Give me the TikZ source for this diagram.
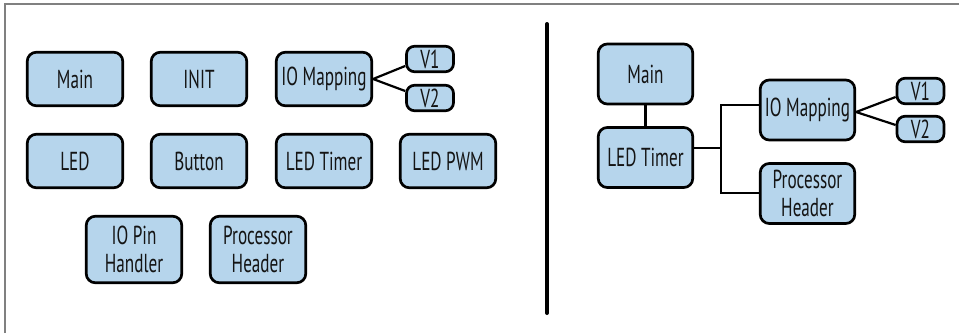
\documentclass[tikz,border=0pt]{standalone}
\usepackage{fontspec}
\setmainfont[FakeStretch=0.66]{PT Sans}
\definecolor{boxfill}{HTML}{B6D5EC}
\definecolor{framegray}{HTML}{808080}
\definecolor{txt}{HTML}{141414}
\begin{document}
\begin{tikzpicture}[x=1pt,y=-1pt,
  box/.style={draw=black, line width=2.7pt, rounded corners=9pt, fill=boxfill,
    text=txt, inner sep=0pt, align=center,
    font=\fontsize{26}{28}\selectfont},
  lbox/.style={box, minimum width=95.5pt, minimum height=53.5pt},
  tbox/.style={box, minimum width=95.5pt, minimum height=66.5pt},
  rbox/.style={box, minimum width=94.5pt, minimum height=60pt},
  vbox/.style={box, minimum width=47pt, minimum height=25.5pt, rounded corners=8pt},
  conn/.style={line width=2.2pt, black}]
\useasboundingbox (0,0) rectangle (959,333);
% frame
\draw[framegray, line width=1.5pt] (5,333) -- (5,4) -- (959,4);
% divider
\draw[black, line width=4pt, line cap=round] (547,24) -- (547,313);

% left panel
\node[lbox] (lmain) at (75,79) {Main};
\node[lbox] (linit) at (199,79) {INIT};
\node[lbox] (liom) at (324,79) {IO Mapping};
\node[vbox] (lv1) at (430,59) {V1};
\node[vbox] (lv2) at (430,98) {V2};
\node[lbox] (lled) at (75,161) {LED};
\node[lbox] (lbtn) at (199,161) {Button};
\node[lbox] (lledt) at (324,161) {LED Timer};
\node[lbox] (lpwm) at (448,161) {LED PWM};
\node[tbox] (lpin) at (134,249.5) {IO Pin\\Handler};
\node[tbox] (lproc) at (258,249.5) {Processor\\Header};
\draw[conn] (liom.east) -- ([yshift=-7pt]lv1.west);
\draw[conn] (liom.east) -- ([yshift=7pt]lv2.west);

% right panel
\node[rbox] (rmain) at (645.5,74) {Main};
\node[rbox] (rledt) at (645.5,157.5) {LED Timer};
\node[rbox] (riom) at (807.5,110) {IO Mapping};
\node[rbox] (rproc) at (807.5,193.5) {Processor\\Header};
\node[vbox] (rv1) at (920.5,91) {V1};
\node[vbox] (rv2) at (920.5,129) {V2};
\coordinate (bj) at (721,148);
\coordinate (bt) at (721,105);
\coordinate (bb) at (721,193);
\draw[conn] (rmain) -- (rledt);
\draw[conn] (bj -| rledt.east) -- (bj);
\draw[conn] (bt -| riom.west) -- (bt) -- (bb) -- (bb -| rproc.west);
\draw[conn] ([yshift=-2pt]riom.east) -- ([yshift=-6pt]rv1.west);
\draw[conn] ([yshift=-2pt]riom.east) -- ([yshift=4pt]rv2.west);
\end{tikzpicture}
\end{document}
